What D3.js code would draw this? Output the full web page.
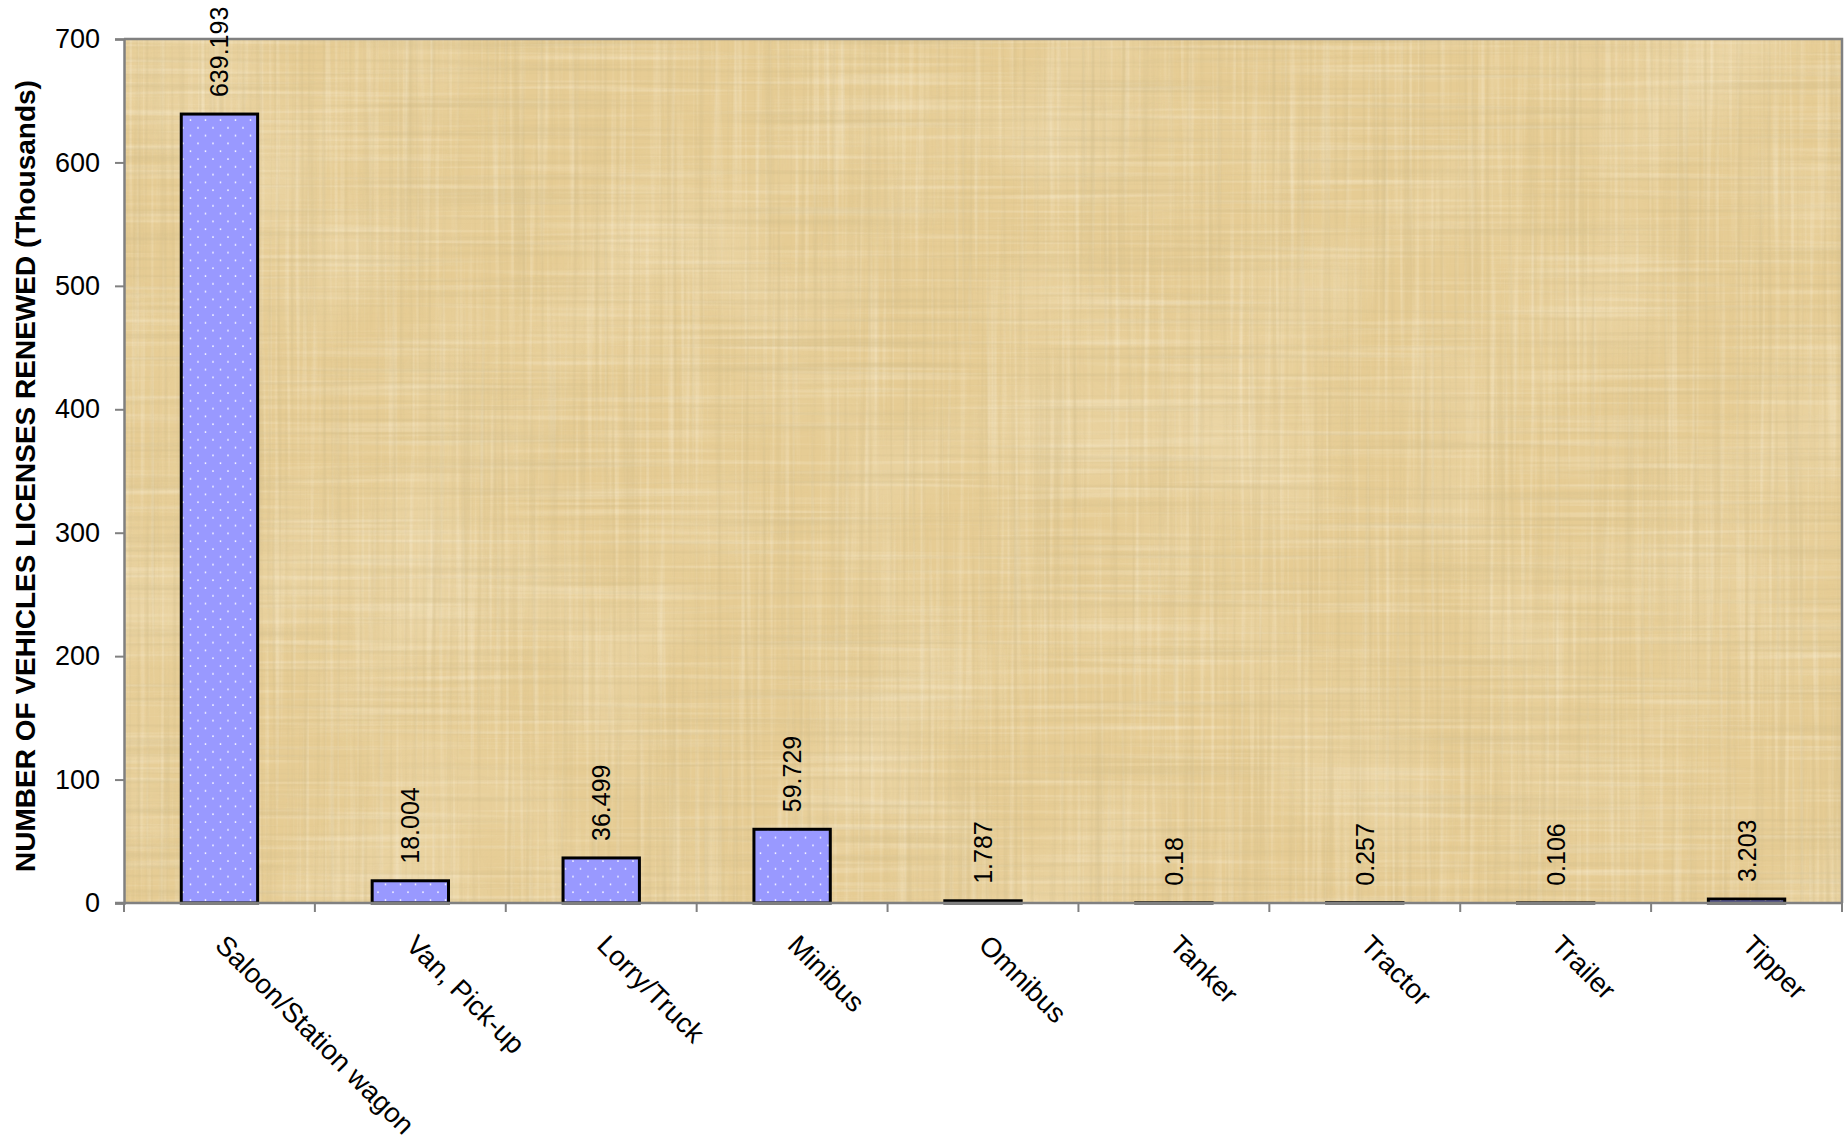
<!DOCTYPE html>
<html>
<head>
<meta charset="utf-8">
<script src="https://cdn.jsdelivr.net/npm/d3@7"></script>
<style>
  html, body { margin: 0; padding: 0; background: #ffffff; }
  svg { display: block; font-family: "Liberation Sans", Arial, sans-serif; }
</style>
</head>
<body>
<svg id="chart" width="1847" height="1139"></svg>
<script>
const categories = ["Saloon/Station wagon", "Van, Pick-up", "Lorry/Truck", "Minibus", "Omnibus", "Tanker", "Tractor", "Trailer", "Tipper"];
const values = [639.193, 18.004, 36.499, 59.729, 1.787, 0.18, 0.257, 0.106, 3.203];
const yTicks = [0, 100, 200, 300, 400, 500, 600, 700];
const yTitle = "NUMBER OF VEHICLES LICENSES RENEWED (Thousands)";

const W = 1847, H = 1139;
const plot = { left: 124, top: 39, right: 1842, bottom: 903 };
const svg = d3.select("#chart");
const defs = svg.append("defs");

// papyrus-like texture
function streakFilter(id, freq, seed, alphaGain, alphaOff, col) {
  const f = defs.append("filter").attr("id", id).attr("x", 0).attr("y", 0).attr("width", "100%").attr("height", "100%");
  f.append("feTurbulence").attr("type", "fractalNoise").attr("baseFrequency", freq).attr("numOctaves", 2).attr("seed", seed);
  f.append("feColorMatrix").attr("type", "matrix")
    .attr("values", `0 0 0 0 ${col[0]}  0 0 0 0 ${col[1]}  0 0 0 0 ${col[2]}  ${alphaGain} 0 0 0 ${alphaOff}`);
}
streakFilter("hstreak", "0.003 0.22", 4, 1.6, -0.76, [0.6, 0.48, 0.24]);
streakFilter("vstreak", "0.22 0.003", 9, 1.6, -0.76, [0.6, 0.48, 0.24]);
streakFilter("hlight", "0.004 0.2", 13, 1.6, -0.8, [0.99, 0.94, 0.8]);
streakFilter("vlight", "0.2 0.004", 17, 1.6, -0.8, [0.99, 0.94, 0.8]);
const fL = defs.append("filter").attr("id", "light").attr("x", 0).attr("y", 0).attr("width", "100%").attr("height", "100%");
fL.append("feTurbulence").attr("type", "fractalNoise").attr("baseFrequency", "0.006 0.006").attr("numOctaves", 2).attr("seed", 2);
fL.append("feColorMatrix").attr("type", "matrix").attr("values", "0 0 0 0 0.97  0 0 0 0 0.9  0 0 0 0 0.72  0 1.2 0 0 -0.5");

// bar dot pattern
const pat = defs.append("pattern").attr("id", "dots").attr("patternUnits", "userSpaceOnUse")
  .attr("width", 15).attr("height", 15.6);
pat.append("rect").attr("width", 15).attr("height", 15.6).attr("fill", "#9999ff");
pat.append("circle").attr("cx", 3).attr("cy", 3).attr("r", 0.9).attr("fill", "#ffffff");
pat.append("circle").attr("cx", 10.5).attr("cy", 10.8).attr("r", 0.9).attr("fill", "#ffffff");

const pw = plot.right - plot.left, ph = plot.bottom - plot.top;
const bg = svg.append("g");
bg.append("rect").attr("x", plot.left).attr("y", plot.top).attr("width", pw).attr("height", ph).attr("fill", "#e6cc94");
bg.append("rect").attr("x", plot.left).attr("y", plot.top).attr("width", pw).attr("height", ph).attr("filter", "url(#light)").attr("opacity", 0.45);
bg.append("rect").attr("x", plot.left).attr("y", plot.top).attr("width", pw).attr("height", ph).attr("filter", "url(#hlight)").attr("opacity", 0.5);
bg.append("rect").attr("x", plot.left).attr("y", plot.top).attr("width", pw).attr("height", ph).attr("filter", "url(#vlight)").attr("opacity", 0.5);
bg.append("rect").attr("x", plot.left).attr("y", plot.top).attr("width", pw).attr("height", ph).attr("filter", "url(#hstreak)").attr("opacity", 0.55);
bg.append("rect").attr("x", plot.left).attr("y", plot.top).attr("width", pw).attr("height", ph).attr("filter", "url(#vstreak)").attr("opacity", 0.55);

// scales
const x = d3.scaleBand().domain(categories).range([plot.left, plot.right]).paddingInner(0.6).paddingOuter(0.3);
const y = d3.scaleLinear().domain([0, 700]).range([plot.bottom, plot.top]);

// border top/right
svg.append("path")
  .attr("d", `M${plot.left},${plot.top}H${plot.right}V${plot.bottom}`)
  .attr("fill", "none").attr("stroke", "#808080").attr("stroke-width", 2.5);

// bars
svg.append("g").selectAll("rect").data(values).join("rect")
  .attr("x", (d, i) => x(categories[i]))
  .attr("y", d => y(d))
  .attr("width", x.bandwidth())
  .attr("height", d => y(0) - y(d))
  .attr("fill", "url(#dots)")
  .attr("stroke", "#000000")
  .attr("stroke-width", 3);

// value labels
svg.append("g").selectAll("text").data(values).join("text")
  .attr("transform", (d, i) => `translate(${x(categories[i]) + x.bandwidth() / 2},${y(d) - 17}) rotate(-90)`)
  .attr("dy", "0.36em")
  .attr("text-anchor", "start")
  .attr("font-size", 25)
  .attr("fill", "#000")
  .text(d => String(d));

// y axis
const yAxis = svg.append("g").attr("transform", `translate(${plot.left},0)`)
  .call(d3.axisLeft(y).tickValues(yTicks).tickSize(9).tickPadding(15).tickFormat(d3.format("d")));
yAxis.select(".domain").attr("stroke", "#808080").attr("stroke-width", 2.5);
yAxis.selectAll(".tick line").attr("stroke", "#808080").attr("stroke-width", 2);
yAxis.selectAll(".tick text").attr("font-size", 27).attr("fill", "#000").attr("font-family", "Liberation Sans, Arial, sans-serif");

// x axis
const step = x.step();
const xAxis = svg.append("g");
xAxis.append("line").attr("x1", plot.left - 9).attr("x2", plot.right).attr("y1", plot.bottom).attr("y2", plot.bottom)
  .attr("stroke", "#808080").attr("stroke-width", 2.5);
const bounds = d3.range(categories.length + 1).map(i => plot.left + i * step);
xAxis.selectAll("line.tk").data(bounds).join("line").attr("class", "tk")
  .attr("x1", d => d).attr("x2", d => d).attr("y1", plot.bottom).attr("y2", plot.bottom + 9)
  .attr("stroke", "#808080").attr("stroke-width", 2);
xAxis.selectAll("text").data(categories).join("text")
  .attr("transform", d => `translate(${x(d) + x.bandwidth() / 2 + 8},${plot.bottom + 30}) rotate(45)`)
  .attr("dy", "0.71em")
  .attr("text-anchor", "start")
  .attr("font-size", 27.5)
  .attr("fill", "#000")
  .text(d => d);

// y title
svg.append("text")
  .attr("transform", `translate(25,${(plot.top + plot.bottom) / 2 + 5}) rotate(-90)`)
  .attr("dy", "0.36em")
  .attr("text-anchor", "middle")
  .attr("font-size", 28)
  .attr("font-weight", "bold")
  .attr("fill", "#000")
  .text(yTitle);
</script>
</body>
</html>
